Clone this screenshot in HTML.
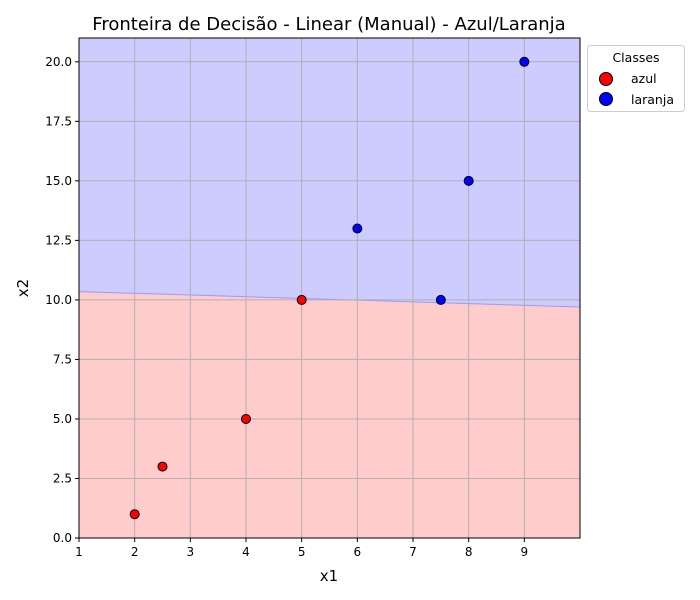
<!DOCTYPE html>
<html><head><meta charset="utf-8"><style>
body{margin:0;background:#fff;}
svg{display:block;font-family:"DejaVu Sans","Liberation Sans",sans-serif;}
</style></head><body>
<svg id="chart" width="700" height="600"></svg>
<script>
const xTicks=[1,2,3,4,5,6,7,8,9];
const yTicks=[0,2.5,5,7.5,10,12.5,15,17.5,20];
const yTickLabels=["0.0","2.5","5.0","7.5","10.0","12.5","15.0","17.5","20.0"];
const azulX=[2,2.5,4,5];
const azulY=[1,3,5,10];
const laranjaX=[6,7.5,8,9];
const laranjaY=[13,10,15,20];
const boundaryX=[1,10];
const boundaryY=[10.35,9.7];
(function(){
const X0=79,X1=580,Y0=538,Y1=38;
const xmin=1,xmax=10,ymin=0,ymax=21;
const sx=v=>X0+(v-xmin)/(xmax-xmin)*(X1-X0);
const sy=v=>Y0-(v-ymin)/(ymax-ymin)*(Y0-Y1);
const svg=document.getElementById('chart');
const NS='http://www.w3.org/2000/svg';
function mk(tag,attrs,parent){const e=document.createElementNS(NS,tag);for(const k in attrs)e.setAttribute(k,attrs[k]);(parent||svg).appendChild(e);return e;}
let bx0=sx(boundaryX[0]),by0=sy(boundaryY[0]),bx1=sx(boundaryX[1]),by1=sy(boundaryY[1]);
let regionTop=mk('polygon',{points:`${X0},${Y1} ${X1},${Y1} ${bx1},${by1} ${bx0},${by0}`,fill:'#ccccff'});


let regionBot=mk('polygon',{points:`${bx0},${by0} ${bx1},${by1} ${X1},${Y0} ${X0},${Y0}`,fill:'#ffcccc'});


let bl=mk('line',{x1:bx0,y1:by0,x2:bx1,y2:by1,stroke:'#9999ff','stroke-width':1});


xTicks.forEach(t=>{const x=sx(t);
 const g=mk('line',{x1:x,y1:Y1,x2:x,y2:Y0,stroke:'#b0b0b0','stroke-width':1});
 
 
 mk('line',{x1:x,y1:Y0,x2:x,y2:Y0+4,stroke:'#000'});
 const l=mk('text',{x:x,y:Y0+18,'text-anchor':'middle','font-size':12});l.textContent=t;
 
 
});
yTicks.forEach((t,i)=>{const y=sy(t);
 const g=mk('line',{x1:X0,y1:y,x2:X1,y2:y,stroke:'#b0b0b0','stroke-width':1});
 
 
 mk('line',{x1:X0-4,y1:y,x2:X0,y2:y,stroke:'#000'});
 const l=mk('text',{x:X0-7,y:y+4,'text-anchor':'end','font-size':12});l.textContent=yTickLabels[i];
 
 
});
azulX.forEach((v,i)=>{const c=mk('circle',{cx:sx(v),cy:sy(azulY[i]),r:4.5,fill:'#ff0000',stroke:'#000','stroke-width':1});
 
 });
laranjaX.forEach((v,i)=>{const c=mk('circle',{cx:sx(v),cy:sy(laranjaY[i]),r:4.5,fill:'#0000ff',stroke:'#000','stroke-width':1});
 
 });
const fr=mk('rect',{x:X0,y:Y1,width:X1-X0,height:Y0-Y1,fill:'none',stroke:'#000','stroke-width':1});


let t=mk('text',{x:329,y:30,'text-anchor':'middle','font-size':18});t.textContent='Fronteira de Decisão - Linear (Manual) - Azul/Laranja';


t=mk('text',{x:329,y:581,'text-anchor':'middle','font-size':15});t.textContent='x1';


t=mk('text',{x:28,y:288,'text-anchor':'middle','font-size':15,transform:'rotate(-90 28 288)'});t.textContent='x2';


const lg=mk('g',{});


mk('rect',{x:587.5,y:45.5,width:97,height:66,rx:3,fill:'#fff',stroke:'#ccc'},lg);
t=mk('text',{x:636,y:62,'text-anchor':'middle','font-size':12.5},lg);t.textContent='Classes';
const le1=mk('g',{},lg);


mk('circle',{cx:606,cy:79,r:6.5,fill:'#ff0000',stroke:'#000'},le1);
t=mk('text',{x:631,y:83,'font-size':12.5},le1);t.textContent='azul';
const le2=mk('g',{},lg);


mk('circle',{cx:606,cy:99,r:6.5,fill:'#0000ff',stroke:'#000'},le2);
t=mk('text',{x:631,y:104,'font-size':12.5},le2);t.textContent='laranja';
})();
</script>
</body></html>
